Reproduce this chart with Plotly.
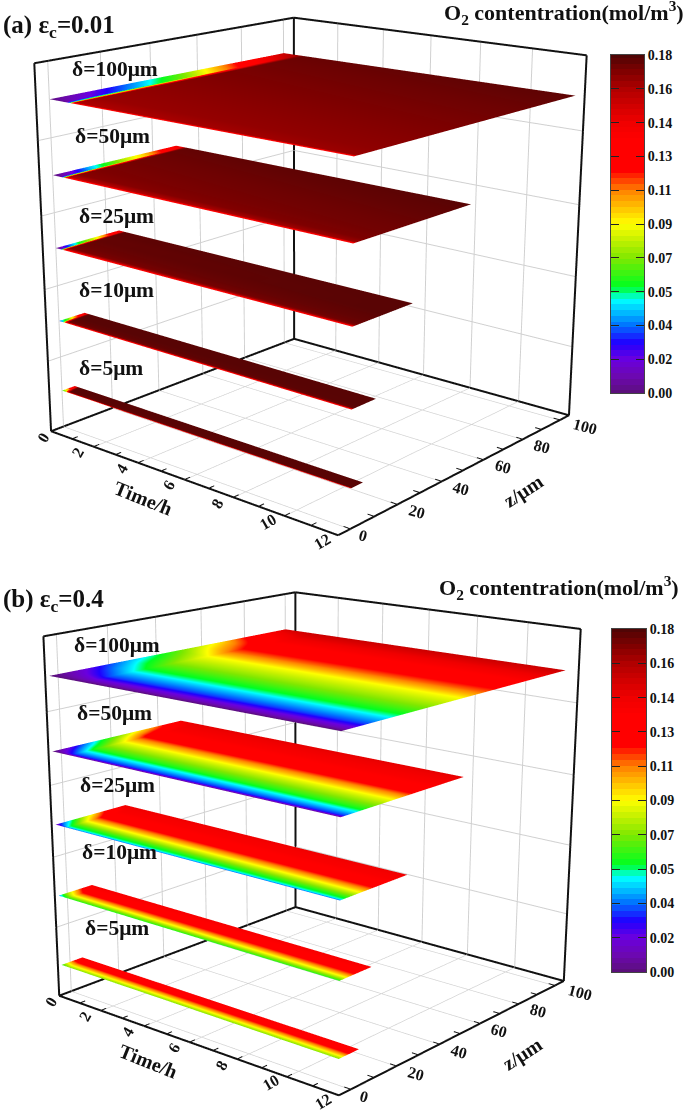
import plotly.graph_objects as go

PAGE_W, PAGE_H = 685, 1114
SCENE_W, SCENE_H = 600, 1450
CENTER_Y = [289, 864]
OFFSET_TOP = 436
FIG_H = 2025

CMAP_STOPS = [0, .05, .1, .15, .2, .25, .275, .315, .4, .45, .5, .55, .6, .63, .66, .75, .8, .9, .95, 1]
CMAP_COLORS = ["#5b0f7b", "#6c08b0", "#6a00e0", "#2000ff", "#0070ff", "#00d0ff", "#00ffff", "#00ff20", "#80e800",
               "#c0f000", "#ffff00", "#ffc000", "#ff8000", "#ff4000", "#ff0000", "#ff0000", "#f00000", "#b00000",
               "#800000", "#500505"]
COLORBAR_TICKS = [0, .018, .036, .054, .072, .09, .108, .126, .144, .162, .18]
COLORBAR_LABELS = ["0.00", "0.02", "0.04", "0.05", "0.07", "0.09", "0.11", "0.13", "0.14", "0.16", "0.18"]
COLORBAR_LEVELS = [i * 0.18 / 59 for i in range(60)]

DELTAS = [100, 50, 25, 10, 5]
HEIGHT_A = [.901, .701, .504, .302, .104]
HEIGHT_B = [.894, .691, .489, .288, .087]
Z_START = [0, -3.5]

F_A100 = [0, .015, .1, .2, .3, .4, .5, .6, .7, .8, .9, 1]
F_A50 = [0, .03, .1, .25, .4, .55, .7, .85, 1]
F_A25 = [0, .05, .1, .25, .4, .55, .7, .85, 1]
F8 = [0, .1, .25, .4, .55, .7, .85, 1]
F12 = [0, .03, .1, .2, .3, .4, .5, .6, .7, .8, .9, 1]
F6 = [0, .2, .4, .6, .8, 1]

A_T_100 = [0, .7, .85, 1.0, 12]
A_C_100 = [[0, .004, .012, .024, .036, .05, .065, .085, .105, .125, .14, .155],
           [.004, .01, .02, .032, .045, .06, .075, .095, .115, .135, .15, .165],
           [.03, .04, .07, .09, .11, .12, .13, .14, .15, .16, .165, .17],
           [.12, .162, .166, .167, .168, .169, .17, .171, .172, .173, .174, .175],
           [.125, .166, .168, .169, .170, .171, .172, .173, .174, .175, .176, .177]]
A_T_50 = [0, .35, .45, .55, 12]
A_C_50 = [[0, .004, .012, .04, .06, .08, .095, .118, .14],
          [.004, .01, .02, .045, .065, .085, .1, .125, .15],
          [.04, .06, .09, .12, .135, .15, .16, .165, .17],
          [.12, .16, .169, .171, .172, .173, .174, .175, .176],
          [.125, .166, .171, .173, .174, .175, .176, .177, .178]]
A_T_25 = [0, .2, .28, .35, 12]
A_C_25 = [[0, .01, .02, .045, .065, .08, .1, .125, .145],
          [.006, .015, .025, .05, .07, .085, .105, .13, .15],
          [.06, .09, .11, .135, .15, .16, .165, .17, .172],
          [.12, .16, .171, .174, .175, .176, .176, .177, .177],
          [.125, .168, .174, .176, .177, .178, .178, .178, .178]]
A_T_10 = [0, .15, .22, .3, 12]
A_C_10 = [[.03, .05, .06, .08, .1, .12, .135, .145],
          [.04, .055, .07, .09, .11, .125, .14, .15],
          [.08, .12, .14, .155, .165, .17, .172, .174],
          [.12, .172, .176, .177, .178, .178, .178, .178],
          [.125, .175, .178, .178, .178, .178, .178, .178]]
A_T_5 = [0, .12, .2, .28, 12]
A_C_5 = [[.06, .075, .09, .105, .12, .13, .14, .15],
         [.065, .08, .095, .11, .125, .135, .145, .155],
         [.09, .13, .15, .16, .17, .172, .174, .175],
         [.12, .174, .177, .178, .178, .178, .178, .178],
         [.125, .178, .178, .178, .178, .178, .178, .178]]

B_T_100 = [0, .75, 1.5, 11.85]
B_C_100 = [[0, .003, .012, .028, .042, .052, .066, .082, .095, .118, .135, .15],
           [0, .008, .022, .04, .054, .065, .078, .096, .11, .127, .14, .153],
           [0, .012, .032, .05, .065, .078, .09, .11, .125, .135, .145, .155],
           [0, .012, .032, .05, .065, .078, .09, .11, .125, .135, .145, .155]]
B_T_50 = [0, .4, .8, 11.85]
B_C_50 = [[0, .004, .014, .03, .046, .06, .072, .086, .098, .11, .127, .14],
          [.003, .016, .03, .046, .06, .074, .09, .105, .116, .124, .135, .144],
          [.005, .03, .045, .062, .075, .088, .105, .125, .133, .138, .142, .147],
          [.005, .03, .045, .062, .075, .088, .105, .125, .133, .138, .142, .147]]
B_T_25 = [0, .25, .5, 11.85]
B_C_25 = [[.008, .02, .035, .05, .065, .08, .09, .105, .12, .13, .138, .142],
          [.02, .035, .048, .062, .078, .092, .105, .118, .128, .134, .139, .143],
          [.035, .05, .06, .075, .09, .105, .12, .13, .135, .138, .14, .144],
          [.035, .05, .06, .075, .09, .105, .12, .13, .135, .138, .14, .144]]
B_T_10 = [0, .2, .4, 11.85]
B_C_10 = [[.04, .07, .09, .11, .13, .138],
          [.05, .08, .1, .12, .132, .139],
          [.06, .087, .11, .13, .135, .14],
          [.06, .087, .11, .13, .135, .14]]
B_T_5 = [0, .15, .3, 11.85]
B_C_5 = [[.06, .082, .1, .12, .13, .136],
         [.066, .086, .104, .122, .131, .137],
         [.072, .09, .108, .125, .132, .138],
         [.072, .09, .108, .125, .132, .138]]

PANEL_A = [(A_T_100, F_A100, A_C_100), (A_T_50, F_A50, A_C_50), (A_T_25, F_A25, A_C_25), (A_T_10, F8, A_C_10), (A_T_5, F8, A_C_5)]
PANEL_B = [(B_T_100, F12, B_C_100), (B_T_50, F12, B_C_50), (B_T_25, F12, B_C_25), (B_T_10, F6, B_C_10), (B_T_5, F6, B_C_5)]

# box edges; the axis ranges sit a hair outside them so the lines are not clipped
TIME_EDGE = [0, 12]
Z_EDGE = [-5, 105]
H_EDGE = [0, 1]
TIME_RANGE = [-.01, 12.01]
Z_RANGE = [-5.09, 105.09]
H_RANGE = [-.0008, 1.0008]
TIME_MAJOR = [0, 2, 4, 6, 8, 10, 12]
TIME_GRID = [2, 4, 6, 8, 10]
TIME_ALL = list(range(13))
Z_MAJOR = [0, 20, 40, 60, 80, 100]
Z_ALL = list(range(0, 101, 10))
H_TICKS = [.2, .4, .6, .8]

CAMERA_A = dict(eye=dict(x=2.8502, y=-3.3967, z=1.2696), center=dict(x=-.0763, y=.0348, z=-.1395))
CAMERA_B = dict(eye=dict(x=2.9304, y=-3.4886, z=1.2866), center=dict(x=-.0369, y=-.0181, z=-.1391))
ASPECT_A = dict(x=.998, y=1.0046, z=.9975)
ASPECT_B = dict(x=.9987, y=1.0019, z=.9994)

FONT = "Liberation Serif"
BLACK = "#111111"


def edges():
    x0, x1 = TIME_EDGE; y0, y1 = Z_EDGE; z0, z1 = H_EDGE
    segs = [((x0, y0, z0), (x1, y0, z0)), ((x1, y0, z0), (x1, y1, z0)), ((x1, y1, z0), (x0, y1, z0)),
            ((x0, y1, z0), (x0, y0, z0)), ((x0, y0, z0), (x0, y0, z1)), ((x0, y1, z0), (x0, y1, z1)),
            ((x1, y1, z0), (x1, y1, z1)), ((x0, y0, z1), (x0, y1, z1)), ((x0, y1, z1), (x1, y1, z1))]
    xs, ys, zs = [], [], []
    for a, b in segs:
        xs += [a[0], b[0], None]; ys += [a[1], b[1], None]; zs += [a[2], b[2], None]
    return xs, ys, zs


def ticks():
    xs, ys, zs = [], [], []
    for t in TIME_ALL:
        xs += [t, t, None]; ys += [Z_EDGE[0], Z_EDGE[0] + 2.2, None]; zs += [0, 0, None]
    for v in Z_ALL:
        xs += [TIME_EDGE[1], TIME_EDGE[1] - .25, None]; ys += [v, v, None]; zs += [0, 0, None]
    return xs, ys, zs


fig = go.Figure()
colorscale = [[s, c] for s, c in zip(CMAP_STOPS, CMAP_COLORS)]
for idx, (panel, hts) in enumerate([(PANEL_A, HEIGHT_A), (PANEL_B, HEIGHT_B)]):
    scene = "scene" if idx == 0 else "scene2"
    for delta, h, (times, fr, c) in zip(DELTAS, hts, panel):
        zv = [Z_START[idx] + f * (delta - Z_START[idx]) for f in fr]
        color = [[row[j] for row in c] for j in range(len(fr))]
        fig.add_trace(go.Surface(x=times, y=zv, z=[[h] * len(times) for _ in zv], surfacecolor=color,
                                 cmin=0, cmax=.18, colorscale=colorscale, showscale=False, hoverinfo="skip",
                                 lighting=dict(ambient=1, diffuse=0, specular=0, roughness=1, fresnel=0),
                                 scene=scene))
    xs, ys, zs = edges()
    fig.add_trace(go.Scatter3d(x=xs, y=ys, z=zs, mode="lines", line=dict(color=BLACK, width=4), hoverinfo="skip",
                               showlegend=False, scene=scene))
    xs, ys, zs = ticks()
    fig.add_trace(go.Scatter3d(x=xs, y=ys, z=zs, mode="lines", line=dict(color=BLACK, width=2), hoverinfo="skip",
                               showlegend=False, scene=scene))


def axis(rng, vals):
    return dict(range=rng, tickvals=vals, ticktext=[""] * len(vals), showticklabels=False, ticks="", showgrid=True,
                gridcolor="#d0d0d0", gridwidth=2, showline=False, zeroline=False, showbackground=False,
                showspikes=False, title=dict(text=""))


def scene_layout(camera, aspect, cy):
    lab = dict(family=FONT, size=16, color=BLACK, weight="bold")
    ann = []
    for t in TIME_MAJOR:
        ann.append(dict(x=t, y=Z_EDGE[0], z=0, text=str(t), showarrow=False, font=lab,
                        textangle=-60 if t < 10 else -30, xshift=-8 if t == 0 else -16, yshift=-6))
    for v in Z_MAJOR:
        ann.append(dict(x=TIME_EDGE[1], y=v, z=0, text=str(v), showarrow=False, font=lab, textangle=15,
                        xshift=13 if v == 0 else 25 if v == 100 else 19, yshift=-7))
    top = cy - SCENE_H / 2 + OFFSET_TOP
    return dict(domain=dict(x=[0, SCENE_W / PAGE_W], y=[1 - (top + SCENE_H) / FIG_H, 1 - top / FIG_H]),
                xaxis=axis(TIME_RANGE, TIME_GRID), yaxis=axis(Z_RANGE, Z_MAJOR), zaxis=axis(H_RANGE, H_TICKS),
                aspectmode="manual", aspectratio=aspect,
                camera=dict(up=dict(x=0, y=0, z=1), projection=dict(type="perspective"), **camera),
                annotations=ann, hovermode=False, bgcolor="rgba(0,0,0,0)")


def py(y):
    return 1 - (y + OFFSET_TOP) / FIG_H


BAR_X = [(611, 644), (612, 646)]
BAR_Y = [(55, 393), (629, 972)]
layout_axes = {}
for i in range(2):
    xa, ya = ("x", "y") if i == 0 else ("x2", "y2")
    fig.add_trace(go.Heatmap(x=[0, 1], y=COLORBAR_LEVELS, z=[[v, v] for v in COLORBAR_LEVELS], zmin=0, zmax=.18,
                             colorscale=colorscale, showscale=False, hoverinfo="skip", xaxis=xa, yaxis=ya))
    s = "" if i == 0 else "2"
    layout_axes["xaxis" + s] = dict(domain=[BAR_X[i][0] / PAGE_W, BAR_X[i][1] / PAGE_W], range=[0, 1], showticklabels=False,
                                    ticks="", showgrid=False, zeroline=False, showline=True, mirror=True,
                                    linecolor="#444444", anchor="y" + s, fixedrange=True)
    layout_axes["yaxis" + s] = dict(domain=[py(BAR_Y[i][1]), py(BAR_Y[i][0])], range=[0, .18], side="right",
                                    tickvals=COLORBAR_TICKS, ticktext=COLORBAR_LABELS, ticks="inside", ticklen=8,
                                    tickwidth=1, tickcolor="#222222", showline=True, mirror="ticks", linecolor="#444444",
                                    showgrid=False, zeroline=False, anchor="x" + s, fixedrange=True,
                                    tickfont=dict(family=FONT, size=14, color=BLACK, weight="bold"))

LABELS = [("δ=100μm", 70, 69, 21.5), ("δ=50μm", 73, 136, 21.5), ("δ=25μm", 77, 216, 21.5), ("δ=10μm", 77, 290, 21.5), ("δ=5μm", 77, 368, 21.5),
          ("δ=100μm", 72, 645, 21.5), ("δ=50μm", 75, 713, 21.5), ("δ=25μm", 78, 785, 21.5), ("δ=10μm", 80, 852, 21.5), ("δ=5μm", 83, 928, 21.5),
          ("(a) ε<sub>c</sub>=0.01", 1, 27, 25), ("(b) ε<sub>c</sub>=0.4", 1, 600, 25),
          ("O<sub>2</sub> contentration(mol/m<sup>3</sup>)", 442, 12, 22), ("O<sub>2</sub> contentration(mol/m<sup>3</sup>)", 437, 587, 22)]
ann = []
for text, x, y, size in LABELS:
    ann.append(dict(text=text, x=x / PAGE_W, y=py(y), xref="paper", yref="paper", xanchor="left", yanchor="middle",
                    showarrow=False, font=dict(family=FONT, size=size, color=BLACK, weight="bold")))
ROT_TITLES = [("Time/h", 143, 498, 22), ("z/μm", 523, 491, -33), ("Time/h", 148, 1061, 22), ("z/μm", 522, 1054, -33)]
for text, x, y, angle in ROT_TITLES:
    ann.append(dict(text=text, x=x / PAGE_W, y=py(y), xref="paper", yref="paper", xanchor="center", yanchor="middle",
                    textangle=angle, showarrow=False, font=dict(family=FONT, size=20, color=BLACK, weight="bold")))

fig.update_layout(width=PAGE_W, height=FIG_H, margin=dict(l=0, r=0, t=0, b=0, autoexpand=False), paper_bgcolor="white", plot_bgcolor="white",
                  showlegend=False, scene=scene_layout(CAMERA_A, ASPECT_A, CENTER_Y[0]),
                  scene2=scene_layout(CAMERA_B, ASPECT_B, CENTER_Y[1]), annotations=ann, **layout_axes)
POST = ("document.body.style.margin='0';document.documentElement.style.overflow='hidden';document.body.style.overflow='hidden';"
        f"document.getElementsByClassName('plotly-graph-div')[0].style.marginTop='-{OFFSET_TOP}px';")
fig.write_html("out.html", post_script=POST, config=dict(displayModeBar=False))
